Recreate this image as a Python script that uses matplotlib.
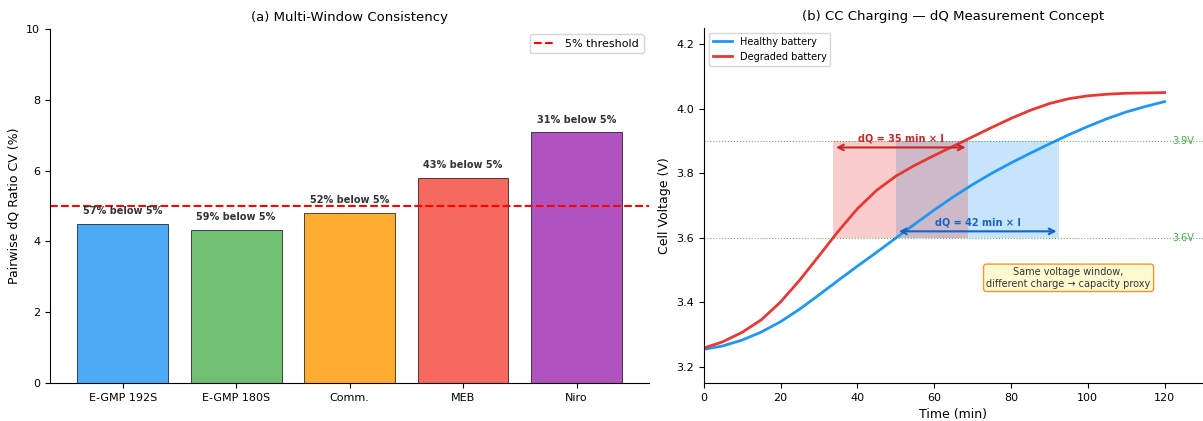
import numpy as np
import matplotlib
matplotlib.use('Agg')
import matplotlib.pyplot as plt

# ================= data =================
groups = ['E-GMP 192S', 'E-GMP 180S', 'Comm.', 'MEB', 'Niro']
cv_values = [4.49, 4.33, 4.80, 5.79, 7.08]
pct_below = [57, 59, 52, 43, 31]
bar_colors = ['#2196F3', '#4CAF50', '#FF9800', '#F44336', '#9C27B0']
threshold = 5.0

time_min = [0, 5, 10, 15, 20, 25, 30, 35, 40, 45, 50, 55, 60,
            65, 70, 75, 80, 85, 90, 95, 100, 105, 110, 115, 120]
v_healthy = [3.254, 3.265, 3.283, 3.308, 3.340, 3.379, 3.423, 3.468, 3.512,
             3.555, 3.599, 3.643, 3.686, 3.727, 3.765, 3.800, 3.832, 3.862,
             3.891, 3.919, 3.945, 3.969, 3.990, 4.007, 4.022]
v_degraded = [3.258, 3.278, 3.307, 3.346, 3.401, 3.469, 3.544, 3.620, 3.690,
              3.747, 3.791, 3.825, 3.855, 3.884, 3.913, 3.942, 3.970, 3.995,
              4.016, 4.031, 4.040, 4.045, 4.048, 4.049, 4.050]

v_low, v_high = 3.6, 3.9
deg_window = (33.7, 68.9)
hel_window = (50.1, 92.6)

# ================= figure =================
fig = plt.figure(figsize=(12.03, 4.21), dpi=100)
ax1 = fig.add_axes([0.0416, 0.0903, 0.498, 0.841])
ax2 = fig.add_axes([0.585, 0.0903, 0.415, 0.843])

# ---- (a) bars ----
x = np.arange(len(groups))
ax1.bar(x, cv_values, color=bar_colors, alpha=0.8,
        edgecolor='black', linewidth=0.6)
ax1.axhline(threshold, color='red', linestyle='--', linewidth=1.5,
            label='5% threshold')
for xi, v, p in zip(x, cv_values, pct_below):
    ax1.text(xi, v + 0.22, f'{p}% below 5%', ha='center', va='bottom',
             fontsize=7, fontweight='bold', color='#333333')
ax1.set_xticks(x)
ax1.set_xticklabels(groups, fontsize=8)
ax1.tick_params(axis='y', labelsize=8)
ax1.set_ylim(0, 10)
ax1.set_ylabel('Pairwise dQ Ratio CV (%)', fontsize=9)
ax1.set_title('(a) Multi-Window Consistency', fontsize=9.5)
ax1.legend(loc='upper right', fontsize=8)
ax1.spines['top'].set_visible(False)
ax1.spines['right'].set_visible(False)

# ---- (b) charging curves ----
# healthy window first, degraded window on top
ax2.fill_between(hel_window, v_low, v_high, color='#2196F3', alpha=0.25,
                 linewidth=0)
ax2.fill_between(deg_window, v_low, v_high, color='#E53935', alpha=0.25,
                 linewidth=0)
ax2.plot(time_min, v_healthy, color='#2196F3', linewidth=2,
         label='Healthy battery')
ax2.plot(time_min, v_degraded, color='#E53935', linewidth=2,
         label='Degraded battery')

for v in (v_low, v_high):
    ax2.axhline(v, color='green', linestyle=':', linewidth=0.8, alpha=0.6)
    ax2.text(122, v, f'{v}V', fontsize=7, color='green', alpha=0.7,
             va='center', ha='left')

ax2.annotate('', xy=(deg_window[1], 3.88), xytext=(deg_window[0], 3.88),
             arrowprops=dict(arrowstyle='<->', color='#C62828', lw=1.5))
ax2.text(np.mean(deg_window), 3.893, 'dQ = 35 min × I', ha='center',
         va='bottom', fontsize=7, fontweight='bold', color='#C62828')
ax2.annotate('', xy=(hel_window[1], 3.62), xytext=(hel_window[0], 3.62),
             arrowprops=dict(arrowstyle='<->', color='#1565C0', lw=1.5))
ax2.text(np.mean(hel_window), 3.633, 'dQ = 42 min × I', ha='center',
         va='bottom', fontsize=7, fontweight='bold', color='#1565C0')

ax2.text(95, 3.476, 'Same voltage window,\ndifferent charge → capacity proxy',
         ha='center', va='center', fontsize=7, color='#333333',
         bbox=dict(boxstyle='round,pad=0.3', facecolor='#FFF9C4',
                   edgecolor='#F57C00', alpha=0.8))

ax2.set_xlim(0, 130)
ax2.set_ylim(3.15, 4.25)
ax2.set_xticks([0, 20, 40, 60, 80, 100, 120])
ax2.set_yticks([3.2, 3.4, 3.6, 3.8, 4.0, 4.2])
ax2.tick_params(labelsize=8)
ax2.set_xlabel('Time (min)', fontsize=9)
ax2.set_ylabel('Cell Voltage (V)', fontsize=9)
ax2.set_title('(b) CC Charging — dQ Measurement Concept', fontsize=9.5)
ax2.legend(loc='upper left', fontsize=7)
ax2.spines['top'].set_visible(False)
ax2.spines['right'].set_visible(False)

fig.savefig('out.png', dpi=100)
